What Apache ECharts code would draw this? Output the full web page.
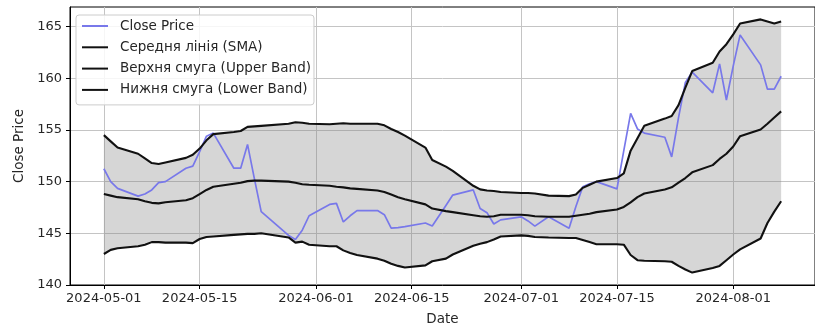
<!DOCTYPE html>
<html><head><meta charset="utf-8">
<script src="https://cdn.jsdelivr.net/npm/echarts@6/dist/echarts.min.js"></script>
<style>html,body{margin:0;padding:0;background:#fff}#c{width:815px;height:334px}</style>
</head><body><div id="c"></div>
<script>
const dates = [
 '2024-05-01','2024-05-02','2024-05-03','2024-05-06','2024-05-07','2024-05-08','2024-05-09','2024-05-10',
 '2024-05-13','2024-05-14','2024-05-15','2024-05-16','2024-05-17','2024-05-20','2024-05-21','2024-05-22',
 '2024-05-23','2024-05-24','2024-05-28','2024-05-29','2024-05-30','2024-05-31',
 '2024-06-03','2024-06-04','2024-06-05','2024-06-06','2024-06-07','2024-06-10','2024-06-11','2024-06-12',
 '2024-06-13','2024-06-14','2024-06-17','2024-06-18','2024-06-20','2024-06-21','2024-06-24','2024-06-25',
 '2024-06-26','2024-06-27','2024-06-28',
 '2024-07-01','2024-07-02','2024-07-03','2024-07-05','2024-07-08','2024-07-09','2024-07-10','2024-07-11',
 '2024-07-12','2024-07-15','2024-07-16','2024-07-17','2024-07-18','2024-07-19','2024-07-22','2024-07-23',
 '2024-07-24','2024-07-25','2024-07-26','2024-07-29','2024-07-30','2024-07-31',
 '2024-08-01','2024-08-02','2024-08-05','2024-08-06','2024-08-07','2024-08-08'
];
const closePrice = [
 151.25,150.0,149.35,148.6,148.8,149.2,149.9,150.0,151.3,151.5,152.9,154.4,154.7,151.3,151.3,153.6,150.3,147.1,144.8,144.4,145.3,146.7,
 147.8,147.9,146.1,146.7,147.2,147.2,146.8,145.5,145.55,145.65,146.0,145.7,147.7,148.7,149.2,147.4,147.0,145.9,146.3,
 146.6,146.2,145.7,146.6,145.5,147.6,149.5,149.8,150.0,149.3,153.0,156.6,155.1,154.7,154.3,152.4,156.2,159.6,160.6,158.6,161.4,157.9,
 161.2,164.2,161.3,158.95,158.95,160.2
];
const smaLine = [
 148.8,148.65,148.5,148.3,148.1,147.95,147.9,148.0,148.2,148.4,148.8,149.2,149.5,149.8,149.9,150.05,150.1,150.1,150.0,149.9,149.75,149.7,
 149.6,149.5,149.45,149.35,149.3,149.15,149.0,148.75,148.5,148.3,147.8,147.4,147.15,147.05,146.75,146.65,146.6,146.65,146.8,
 146.8,146.75,146.65,146.6,146.6,146.7,146.8,146.9,147.05,147.3,147.55,148.0,148.5,148.85,149.25,149.45,149.9,150.35,150.9,151.6,152.2,152.7,
 153.4,154.4,155.05,155.6,156.2,156.8
];
const upperBand = [
 154.5,153.9,153.3,152.7,152.25,151.8,151.7,151.85,152.3,152.6,153.2,154.0,154.6,154.8,154.9,155.3,155.35,155.4,155.6,155.75,155.7,155.6,
 155.55,155.6,155.65,155.6,155.6,155.6,155.45,155.1,154.8,154.45,153.3,152.1,151.45,151.05,149.6,149.25,149.15,149.1,149.0,
 148.9,148.9,148.85,148.65,148.6,148.75,149.4,149.7,150.0,150.35,150.8,153.0,154.2,155.4,156.1,156.35,157.4,159.1,160.7,161.5,162.6,163.3,
 164.25,165.3,165.7,165.5,165.3,165.5
];
const lowerBand = [
 143.0,143.4,143.55,143.75,143.9,144.15,144.15,144.1,144.1,144.05,144.45,144.65,144.7,144.85,144.9,144.95,144.95,145.0,144.6,144.1,144.2,143.9,
 143.75,143.75,143.35,143.1,142.9,142.55,142.35,142.05,141.85,141.7,141.9,142.3,142.55,142.95,143.8,144.0,144.15,144.4,144.7,
 144.8,144.75,144.65,144.6,144.55,144.55,144.35,144.15,143.95,143.95,143.9,142.9,142.4,142.35,142.3,142.25,141.85,141.5,141.2,141.65,141.85,142.4,
 142.95,143.45,144.5,146.0,147.1,148.1
];
const xTickLabels = ['2024-05-01','2024-05-15','2024-06-01','2024-06-15','2024-07-01','2024-07-15','2024-08-01'];
const yTicks = [140,145,150,155,160,165];
const seriesNames = ['Close Price','Середня лінія (SMA)','Верхня смуга (Upper Band)','Нижня смуга (Lower Band)'];

function ts(s){const p=s.split('-').map(Number);return new Date(p[0],p[1]-1,p[2]).getTime();}
function pad(n){return (n<10?'0':'')+n;}
function fmt(v){const d=new Date(v);return d.getFullYear()+'-'+pad(d.getMonth()+1)+'-'+pad(d.getDate());}
const DAY=86400000;
const T = dates.map(ts);
const xMin = T[0]-4.95*DAY, xMax = T[T.length-1]+4.95*DAY;
const pairs = arr => T.map((t,i)=>[t,arr[i]]);
const FONT = 'DejaVu Sans';

const chart = echarts.init(document.getElementById('c'), null, {renderer:'canvas'});
const blackLine = (name, arr) => ({
  name, type:'line', data:pairs(arr), symbol:'none', z:4,
  lineStyle:{color:'#111', width:2.1}, itemStyle:{color:'#111'}
});
chart.setOption({
  animation:false,
  backgroundColor:'#fff',
  grid:{left:70, top:7, width:751, height:278, show:true, borderColor:'#000', borderWidth:1, backgroundColor:'transparent'},
  legend:{
    data:seriesNames, orient:'vertical', left:76, top:15,
    itemWidth:26, itemHeight:14, itemGap:7.3,
    padding:[4,3,8,5],
    itemStyle:{opacity:0},
    backgroundColor:'rgba(255,255,255,0.85)', borderColor:'#cccccc', borderWidth:1, borderRadius:3,
    textStyle:{fontSize:13.5, color:'#262626', fontFamily:FONT, padding:[0,0,0,7]}
  },
  xAxis:{
    type:'value', min:xMin, max:xMax, scale:true,
    name:'Date', nameLocation:'middle', nameGap:27,
    nameTextStyle:{fontSize:13.5, color:'#262626', fontFamily:FONT},
    axisLine:{show:true, onZero:false, lineStyle:{color:'#000', width:1}},
    axisTick:{show:true, length:4, inside:false, lineStyle:{color:'#000'}, customValues:xTickLabels.map(ts)},
    axisLabel:{fontSize:13, color:'#262626', fontFamily:FONT, margin:7, customValues:xTickLabels.map(ts), formatter:(v)=>fmt(v), hideOverlap:false},
    splitLine:{show:true, lineStyle:{color:'#c4c4c4', width:1}}
  },
  yAxis:{
    type:'value', min:140, max:166.9,
    name:'Close Price', nameLocation:'middle', nameGap:40, nameRotate:90,
    nameTextStyle:{fontSize:13.5, color:'#262626', fontFamily:FONT},
    axisLine:{show:true, onZero:false, lineStyle:{color:'#000', width:1}},
    axisTick:{show:true, length:4, lineStyle:{color:'#000'}, customValues:yTicks},
    axisLabel:{fontSize:13, color:'#262626', fontFamily:FONT, margin:8, customValues:yTicks},
    splitLine:{show:true, lineStyle:{color:'#c4c4c4', width:1}}
  },
  series:[
    {name:'bandBase', type:'line', stack:'band', data:T.map((t,i)=>[lowerBand[i], t]), encode:{x:1, y:0},
     symbol:'none', silent:true, z:1, lineStyle:{opacity:0, width:0}},
    {name:'bandFill', type:'line', stack:'band', data:T.map((t,i)=>[upperBand[i]-lowerBand[i], t]), encode:{x:1, y:0},
     symbol:'none', silent:true, z:1,
     lineStyle:{opacity:0, width:0}, areaStyle:{color:'rgba(128,128,128,0.32)', opacity:1}},
    {name:seriesNames[0], type:'line', data:pairs(closePrice), symbol:'none', z:3,
     lineStyle:{color:'#7878ea', width:1.7}, itemStyle:{color:'#7878ea'}},
    blackLine(seriesNames[1], smaLine),
    blackLine(seriesNames[2], upperBand),
    blackLine(seriesNames[3], lowerBand)
  ]
});
</script></body></html>
